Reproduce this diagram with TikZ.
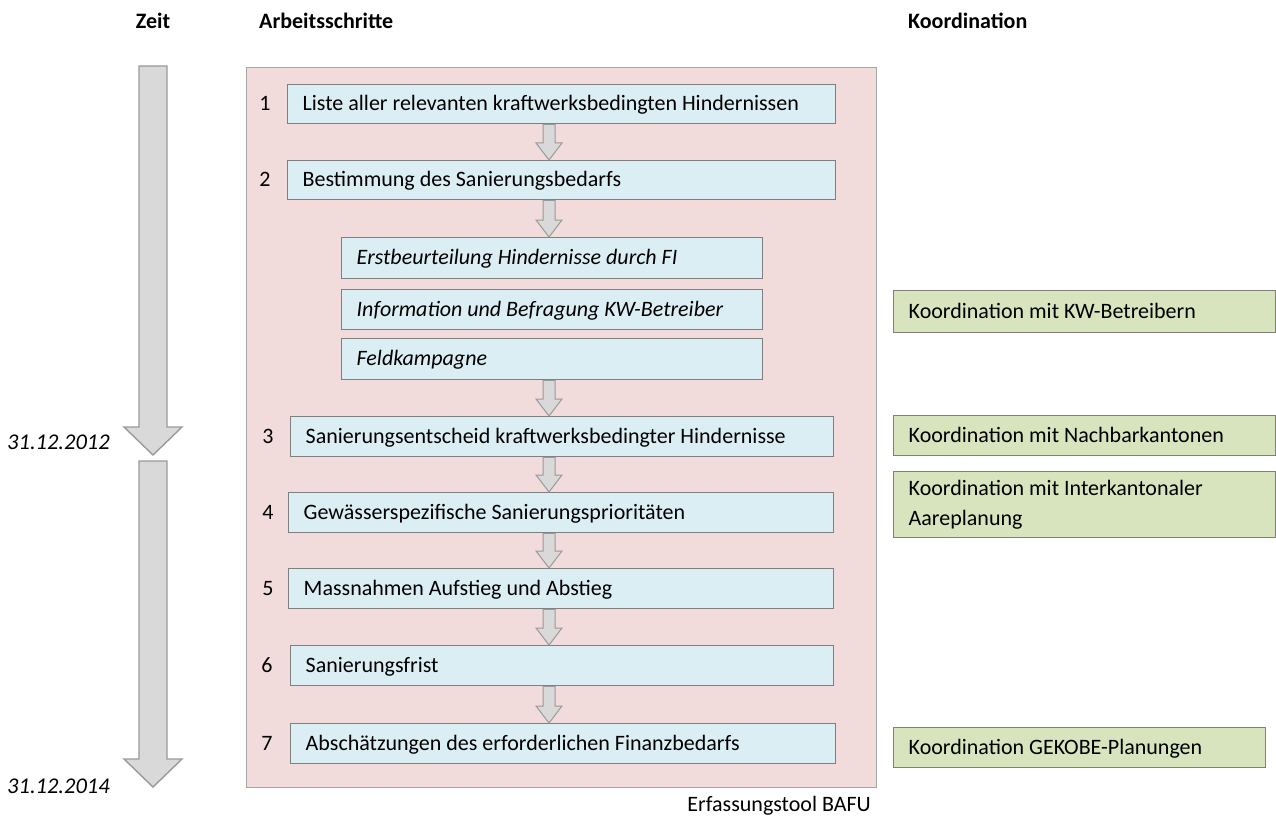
\documentclass[tikz,border=0pt]{standalone}
\usepackage{fontspec}
\setmainfont{Carlito}
\usetikzlibrary{calc}
\definecolor{pinkbg}{HTML}{F2DCDB}
\definecolor{pinkbd}{HTML}{A6A6A6}
\definecolor{bluebox}{HTML}{DBEEF4}
\definecolor{boxbd}{HTML}{7F7F7F}
\definecolor{greenbox}{HTML}{D7E4BD}
\definecolor{arrfill}{HTML}{D9D9D9}
\definecolor{arrbd}{HTML}{9A9A9A}
\newcommand\fatarrow[6]{\path[#1] let \p1=(#2), \p2=(#3) in
  (\x1-#4,\y1) -- (\x1+#4,\y1) -- (\x1+#4,\y2+#6) -- (\x1+#5,\y2+#6) -- (\x1,\y2)
  -- (\x1-#5,\y2+#6) -- (\x1-#4,\y2+#6) -- cycle;}
\begin{document}
\begin{tikzpicture}[x=1pt,y=-1pt,
  font=\fontsize{22}{26}\selectfont,
  frame/.style={draw=pinkbd, fill=pinkbg, line width=1.2pt, anchor=north west, inner sep=0pt},
  stepbox/.style={draw=boxbd, fill=bluebox, line width=1.4pt, anchor=north west,
    inner xsep=15pt, inner ysep=0pt, align=flush left, text height=17pt, text depth=4pt},
  subbox/.style={stepbox, font=\fontsize{22}{26}\selectfont\itshape},
  koordbox/.style={draw=boxbd, fill=greenbox, line width=1.4pt, anchor=north west,
    inner xsep=15pt, inner ysep=0pt, align=flush left},
  num/.style={anchor=base, inner sep=0pt},
  hdr/.style={font=\fontsize{22}{26}\selectfont\bfseries, inner sep=0pt},
  datum/.style={font=\fontsize{22.5}{26}\selectfont\itshape, anchor=west, inner sep=0pt},
  flow/.style={fill=arrfill, draw=arrbd, line width=1pt, line join=miter},
  timearrow/.style={fill=arrfill, draw=arrbd, line width=1.4pt, line join=miter}]
\fill[white] (0,0) rectangle (1276,821);
\useasboundingbox (0,0) rectangle (1276,821);

% headers
\node[hdr] (hzeit) at (153,21) {Zeit};
\node[hdr, anchor=west] (harb) at (259,21) {Arbeitsschritte};
\node[hdr, anchor=west] (hkoord) at (908,21) {Koordination};

% frame
\node[frame, minimum width=630, minimum height=720] (frm) at (246,67) {};
\node[anchor=east, inner sep=0pt] (cap) at (871,806) {Erfassungstool BAFU};

% steps
\node[stepbox, minimum width=548, minimum height=39, text width=518] (s1) at (287,84) {Liste aller relevanten kraftwerksbedingten Hindernissen};
\node[stepbox, minimum width=548, minimum height=39, text width=518] (s2) at (287,160) {Bestimmung des Sanierungsbedarfs};
\node[subbox, minimum width=421, minimum height=41, text width=391] (u1) at (341,237) {Erstbeurteilung Hindernisse durch FI};
\node[subbox, minimum width=421, minimum height=40, text width=391] (u2) at (341,289) {Information und Befragung KW-Betreiber};
\node[subbox, minimum width=421, minimum height=41, text width=391] (u3) at (341,338) {Feldkampagne};
\node[stepbox, minimum width=543, minimum height=40, text width=513] (s3) at (290,416) {Sanierungsentscheid kraftwerksbedingter Hindernisse};
\node[stepbox, minimum width=545, minimum height=40, text width=515] (s4) at (288,492) {Gewässerspezifische Sanierungsprioritäten};
\node[stepbox, minimum width=545, minimum height=40, text width=515] (s5) at (288,568) {Massnahmen Aufstieg und Abstieg};
\node[stepbox, minimum width=543, minimum height=40, text width=513] (s6) at (290,645) {Sanierungsfrist};
\node[stepbox, minimum width=545, minimum height=40, text width=515] (s7) at (290,723) {Abschätzungen des erforderlichen Finanzbedarfs};

% numbers (same baseline as the box text)
\node[num] (n1) at ([xshift=-22pt]s1.base west) {1};
\node[num] (n2) at ([xshift=-22pt]s2.base west) {2};
\node[num] (n3) at ([xshift=-22pt]s3.base west) {3};
\node[num] (n4) at ([xshift=-20pt]s4.base west) {4};
\node[num] (n5) at ([xshift=-20pt]s5.base west) {5};
\node[num] (n6) at ([xshift=-23pt]s6.base west) {6};
\node[num] (n7) at ([xshift=-23pt]s7.base west) {7};

% flow arrows
\coordinate (ax) at (549,0);
\fatarrow{flow}{s1.south -| ax}{s2.north -| ax}{6pt}{13pt}{17pt}
\fatarrow{flow}{s2.south -| ax}{u1.north -| ax}{6pt}{13pt}{17pt}
\fatarrow{flow}{u3.south -| ax}{s3.north -| ax}{6pt}{13pt}{17pt}
\fatarrow{flow}{s3.south -| ax}{s4.north -| ax}{6pt}{13pt}{17pt}
\fatarrow{flow}{s4.south -| ax}{s5.north -| ax}{6pt}{13pt}{17pt}
\fatarrow{flow}{s5.south -| ax}{s6.north -| ax}{6pt}{13pt}{17pt}
\fatarrow{flow}{s6.south -| ax}{s7.north -| ax}{6pt}{13pt}{17pt}

% coordination
\node[koordbox, minimum width=382, minimum height=42, text width=352, text height=17pt, text depth=4pt] (k1) at (893,290) {Koordination mit KW-Betreibern};
\node[koordbox, minimum width=382, minimum height=40, text width=352, text height=17pt, text depth=4pt] (k2) at (893,415) {Koordination mit Nachbarkantonen};
\node[koordbox, minimum width=382, minimum height=66, text width=352, font=\fontsize{22}{30}\selectfont] (k3) at (893,471) {Koordination mit Interkantonaler\\Aareplanung};
\node[koordbox, minimum width=372, minimum height=40, text width=342, text height=17pt, text depth=4pt] (k4) at (893,727) {Koordination GEKOBE-Planungen};

% time arrows
\coordinate (t1top) at (153,66);
\coordinate (t1tip) at (153,455);
\coordinate (t2top) at (153,461);
\coordinate (t2tip) at (153,787);
\fatarrow{timearrow}{t1top}{t1tip}{14pt}{29pt}{28pt}
\fatarrow{timearrow}{t2top}{t2tip}{14pt}{29pt}{28pt}
\node[datum] (d1) at (7,442) {31.12.2012};
\node[datum] (d2) at (7,786) {31.12.2014};
\end{tikzpicture}
\end{document}
